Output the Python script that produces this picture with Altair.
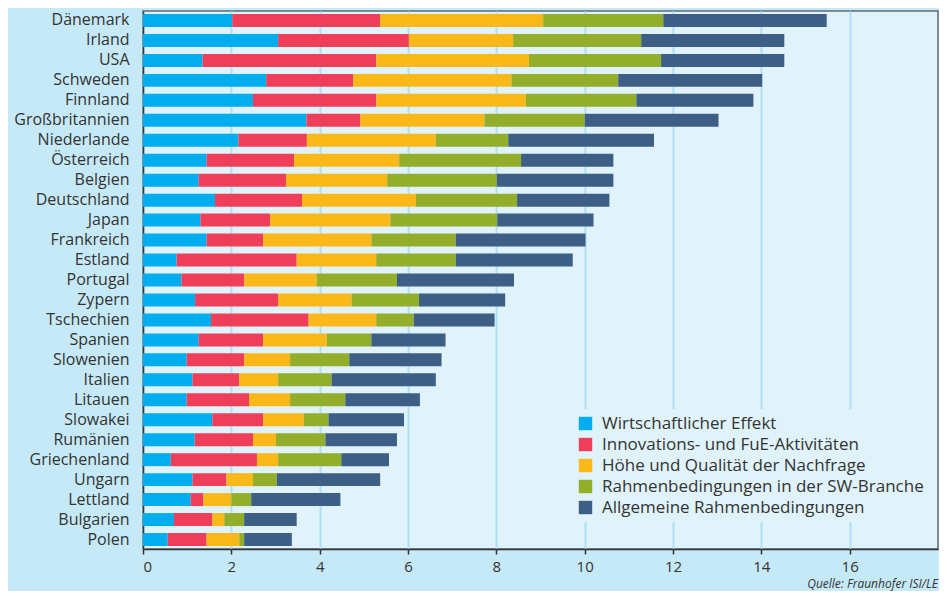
import altair as alt
import pandas as pd

countries = ["Dänemark", "Irland", "USA", "Schweden", "Finnland", "Großbritannien",
             "Niederlande", "Österreich", "Belgien", "Deutschland", "Japan", "Frankreich",
             "Estland", "Portugal", "Zypern", "Tschechien", "Spanien", "Slowenien",
             "Italien", "Litauen", "Slowakei", "Rumänien", "Griechenland", "Ungarn",
             "Lettland", "Bulgarien", "Polen"]

series = ["Wirtschaftlicher Effekt",
          "Innovations- und FuE-Aktivitäten",
          "Höhe und Qualität der Nachfrage",
          "Rahmenbedingungen in der SW-Branche",
          "Allgemeine Rahmenbedingungen"]

colors = ["#00aeef", "#ef3e5a", "#fbb819", "#93ae2a", "#3d5f85"]

wirtschaft = [2.02, 3.06, 1.35, 2.79, 2.49, 3.70, 2.16, 1.44, 1.26, 1.63, 1.30, 1.44, 0.76, 0.87,
              1.18, 1.54, 1.26, 0.99, 1.12, 0.99, 1.57, 1.17, 0.63, 1.12, 1.08, 0.70, 0.56]
innovation = [3.35, 2.96, 3.93, 1.97, 2.79, 1.22, 1.55, 1.98, 1.98, 1.97, 1.58, 1.28, 2.72, 1.42,
              1.88, 2.21, 1.46, 1.30, 1.06, 1.41, 1.15, 1.32, 1.95, 0.77, 0.29, 0.87, 0.88]
nachfrage = [3.69, 2.36, 3.46, 3.58, 3.39, 2.81, 2.92, 2.38, 2.29, 2.58, 2.72, 2.45, 1.80, 1.64,
             1.66, 1.53, 1.44, 1.04, 0.88, 0.93, 0.92, 0.52, 0.48, 0.60, 0.63, 0.27, 0.74]
sw_branche = [2.72, 2.90, 2.99, 2.42, 2.50, 2.27, 1.64, 2.76, 2.48, 2.29, 2.42, 1.91, 1.80, 1.82,
              1.53, 0.85, 1.01, 1.34, 1.21, 1.25, 0.56, 1.12, 1.43, 0.54, 0.45, 0.45, 0.11]
allgemein = [3.70, 3.24, 2.79, 3.26, 2.65, 3.03, 3.30, 2.09, 2.64, 2.09, 2.18, 2.94, 2.65, 2.65,
             1.95, 1.83, 1.68, 2.09, 2.36, 1.69, 1.71, 1.62, 1.08, 2.34, 2.02, 1.19, 1.08]

x_ticks = [0, 2, 4, 6, 8, 10, 12, 14, 16]

all_vals = [wirtschaft, innovation, nachfrage, sw_branche, allgemein]
rows = []
for i, c in enumerate(countries):
    for j, s in enumerate(series):
        rows.append({"Land": c, "Faktor": s, "Wert": all_vals[j][i], "ord": j})
df = pd.DataFrame(rows)

FONT = "Open Sans"

chart = alt.Chart(df).mark_bar().encode(
    x=alt.X("Wert:Q", stack="zero",
            scale=alt.Scale(domain=[0, 18], nice=False, zero=True),
            axis=alt.Axis(values=x_ticks, title=None, labelFontSize=15, labelColor="#333333",
                          labelFont=FONT, tickSize=5, tickColor="#333333", tickWidth=1.5,
                          domainColor="#333333", domainWidth=1.5, labelPadding=5,
                          gridColor="#aee0f5", gridWidth=2)),
    y=alt.Y("Land:N", sort=countries,
            scale=alt.Scale(paddingInner=0.35, paddingOuter=0.15),
            axis=alt.Axis(title=None, ticks=False, labelFontSize=16, labelColor="#333333",
                          labelFont=FONT, labelPadding=14, domainColor="#333333",
                          domainWidth=1.5, grid=False)),
    color=alt.Color("Faktor:N",
                    scale=alt.Scale(domain=series, range=colors),
                    legend=alt.Legend(title=None, orient="none", legendX=428, legendY=398,
                                      fillColor="#e0f3fb", padding=6, labelFontSize=17,
                                      labelColor="#333333", labelFont=FONT, labelLimit=0,
                                      symbolType="square", symbolSize=180,
                                      symbolStrokeWidth=0, symbolOpacity=1,
                                      labelOffset=8, rowPadding=3)),
    order=alt.Order("ord:Q"),
).properties(
    width=931, height=583,
    autosize=alt.AutoSizeParams(type="fit", contains="padding"),
    padding={"left": 5, "top": 3, "right": 1, "bottom": 1},
    background="#c6e9f8",
    title=alt.TitleParams("Quelle:  Fraunhofer ISI/LE", orient="bottom", anchor="end",
                          fontSize=12, fontStyle="italic", fontWeight="normal",
                          color="#333333", font=FONT, offset=5),
).configure_view(
    fill="#e0f3fb", stroke="#5f6b73", strokeWidth=1.5
)

chart.save("out.html", embed_options={"renderer": "svg", "actions": False})
